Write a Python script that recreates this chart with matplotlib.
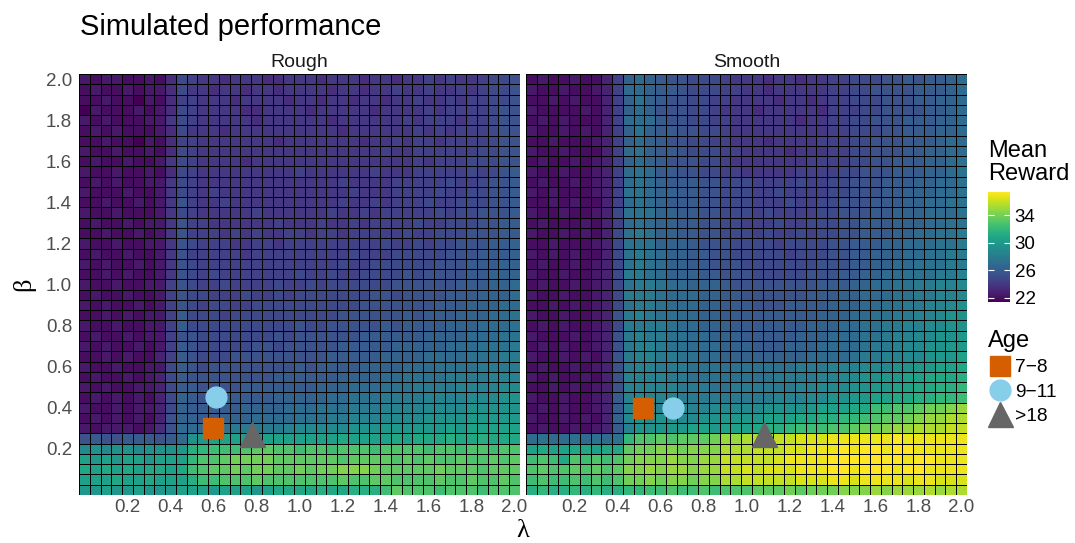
import numpy as np
import matplotlib.pyplot as plt
from matplotlib.colors import Normalize
from matplotlib.lines import Line2D

plt.rcParams['font.family'] = ['Liberation Sans', 'DejaVu Sans']

W, H = 1075, 543

# parameter grid (cell centres)
lambdas = [0.0, 0.05, 0.1, 0.15, 0.2, 0.25, 0.3, 0.35, 0.4, 0.45, 0.5, 0.55, 0.6, 0.65,
           0.7, 0.75, 0.8, 0.85, 0.9, 0.95, 1.0, 1.05, 1.1, 1.15, 1.2, 1.25, 1.3, 1.35,
           1.4, 1.45, 1.5, 1.55, 1.6, 1.65, 1.7, 1.75, 1.8, 1.85, 1.9, 1.95, 2.0]
betas = list(lambdas)

# mean reward per cell, one char per cell: value = 21.4 + 0.5 * LEVELS.index(c)
# rows go from beta = 2.0 (top) down to beta = 0.0, columns lambda 0 -> 2
LEVELS = "abcdefghijklmnopqrstuvwxyzABCDEFG"

rough_rows = [
    "cbccbbcb e h g ffefffeeff fefffeffef fgfgffghhi",
    "bcbbcbcc e h f feffeffeff ffeffeffgf fgffgfghhi",
    "bbcbbacb e g g fffeffffef feffeffeff gffgfgghhi",
    "acbbbcbc e h g ffffeeffff efffffefff fgfgggghii",
    "cbcbbbcc f h g fffffeffff ffeffffffg fgggfgghii",
    "bcbcbbbc e h f ffefffffff fffeffffff gfgfggghii",
    "bbcbbacb e g g fffffffeff fffffeffgf ggfgggghii",
    "cbbcbbcb e h g ffffffffff fffffffgff gggggghhii",
    "bcbbcbbc f h g ffffefffff ffffffffff gfggghhhii",
    "cbbcbbcb e h g fffffffffg ffffffgfff ggggghghij",
    "bcbcbbcc f h g ffffffffff fffgffffgg ggghgghiij",
    "cbbbcbbc f h g fgffffffff ffffgfffgg gghgghhiij",
    "bbcbbcbc f i g ffgfffffff fffgffgfgg ghgghhhiij",
    "cbbcbbbc f h g fffffgffff ffgffgfggg gghghhiiij",
    "bcbbcbcc f i g gffffffgff fgffgfgggg hgghhhiijj",
    "bbcbbcbc f i g ggfgfgffgg fggfgggggh gghhhiiijj",
    "cbbcbbcc f i h gggffggfgg ggggggghgg hghhiiijjk",
    "bcbbcbbc f i g ggggfggggg gggghggghh hhhiiijjjk",
    "cbcbbcbc f i h gggggggggg ggghgghhhh hhiiijjjkk",
    "bbcbcbbc f i h ghgggggggh gghgghhhhi hiiiijjkkk",
    "cbbcbbcc g i h gghgggghgg hghhhhhhii iiiijjjkkl",
    "bcbbcbbc g i h hggghgghgh hhhhhhiihi iiijjjkkkl",
    "cbcbbcbc g i h ghhgghhhhh hhhhhiiiii iijjjkkkll",
    "bbcbcbcc g j h hhghhhhhhh hhhiiiiiij ijjjkkkllm",
    "cbbcbbcc g j h hhhhhhhhhi hhiiiiijij jjjkkklllm",
    "bcbbcbcc g i i hhhhhhhihi iiiiijjjjj jkkkklllmm",
    "cbcbbcbc g j i hhhhhiihii iiijjjjjkk kkklllmmmn",
    "bbcbcbbd g j i hhhiiiiiii iijjjjjkkk kllllmmmnn",
    "cbbcbbcc h j i hiiiiiiiij ijjjjkkkkl llmmmmnnnn",
    "bcbbcbcd h j i iiiiiiijjj jjjkkkkllm mmmnnnnooo",
    "cbcbbccd h j j iiiijjjjjj jkkklllmmm nnnnoooopp",
    "bcbcbcbd h k j iijjjjjkkk kkllmmmnnn noooopppqq",
    "cbbcbccd h k j jjjjkkkkll lmmmnnnooo oppppqqqqq",
    "bcbcbcbd i k k jjkkkllllm mmnnoooppp pqqqqrrrrr",
    "cbcccbce i l l llmnnnnnop ppppqqqrrr rrrsrsssss",
    "ijiijjji j l q rssssrssss ssstssssts tttuttuttt",
    "pqpqqpqq q r u vwwwxyyxxw xxwxxxwxxx xwxxwxxwxx",
    "srsrssrs s s v xxyzzzzyyy yyyxyyyyxy xyxxyxxyxy",
    "tstststt s t w xyyzyzzyyz yzzAAAzyyy yyzyyyxyyy",
    "ssstssts s s u wwxxxyxxxx xxxyxxyyxx xxyxxyxxyx",
    "rrsrrsrr r s s srsssrsttt tuttuuuwyx xxwxxxwxxx",
]

smooth_rows = [
    "bcbbcbbd g k l kjiihhhgff feffeffggh hhiijijjkl",
    "cbbcbbcd g l l kjjihhhggf fefffffggh hiiiijjjkl",
    "bbcbcbbd g k m kjiihhggff ffeffefggh hhiiijjkkl",
    "cbbbbcbd g k l kiiihhgfff efffffeggg hhiiiijjkl",
    "bcbcbbbd g l l ljiihhggff ffffeffggh hiiijjjkkl",
    "cbbcbcbd g k m kjjiihhgff fffffffggh hhiijjjkkl",
    "bbcbbbcd g k l kjiihhggff feffffgggh hiiijjjkll",
    "cbbcbbbd g l m kjjihhhggf fffefffggh hiiijjkkll",
    "bcbbcbcd g k l kjiiihhgff fffffggggh hiijjjkklm",
    "cbbcbbcd g l m ljjiihhggf ffffgggghh iiijjjkklm",
    "bcbbcbcd g l m lkjjjiihhh gggghgghhi iijjjkkllm",
    "cbcbbbcd g m m lkkjjiihhh gghgggghhi iijjkkkllm",
    "bbcbcbbd g l m lkjjjiihhh ggghgghhii ijjjkkllmm",
    "cbbcbbcd h m m mkkjjiihhh ghgggghhii ijjkkklllm",
    "bcbbbcbd g l m lkkjjiihhg gghgghhhii jjjkkkllmm",
    "cbbcbcbd h m n mkkjjiihhh ghgghghhii jjjkkllmmn",
    "bbcbbbcd h m m mkkkjiiihh hhghhhhiij jjkklllmmn",
    "cbcbcbbd h m n mlkkjjiihh hhhghhhiij jkkkllmmnn",
    "bcbbcbcd h m n mlkkjjiiih hhhhhhiiij jkkllmmmnn",
    "cbbcbbcd h n n mlkkkjjiii hhhhhiiijj kkllmmmnno",
    "bcbbcbcd h m n nmllkkkjii iiiiiijjjk kllmmnnoop",
    "cbbcbbcd h n n nmlllkkjji iiiiijjjkk lllmmnnoop",
    "bbcbcbcd h m n nmlllkkjjj iiijjjjkkk llmmnnoopq",
    "cbbcbbcd i n o nmmllkkjjj jjjjjjkkkl lmmnnoopqq",
    "bcbcbbcd h n n nnmllkkkjj jjjjjkkkll mmnnooppqq",
    "cbbbcbcd i n o nnmmllkkkj jjjjkkklll mmnooppqqr",
    "bcbcbbcd i n o onmmlllkkk jjjkkkllll mnnoppqqrr",
    "cbbcbcbd i n o onnmmllkkk kkkkkllllm nnooppqrrs",
    "bcbbcbcd i n o onnnmmmmmm mmmmnnnooo pppqqrrsst",
    "cbcbbcbd i o o oonnmmmmmm mmnnnnoopp qqrrsstttu",
    "bbcbcbcd i o o ooonnnmmnn nnnnoopppq qrrssttuuv",
    "cbbcbbcd j o p ooonnnnnnn nnoooppqqr rssttuuvvw",
    "bcbcbbcd j o p ooppoopppp pqqqqrssst twwxxyzzAB",
    "cbbcbcbd k p q pqqppqqrrr rsssttuuvv wxyyzABBCC",
    "bcbbcbcd j o q qqrrssrsss tuuvwwwxxy zzABBCCCDD",
    "lmllmlml m v x xyxyyyzBBC CCDDEEEFFF FFFGFFFFFF",
    "stssttst t y z zAAzAAACCC DDDEEFFFGF GGFGGFFFFF",
    "wxwtxwxw x z A AABAABBDDD DDEFFFFGGG GGGGFGGFFF",
    "xyxxyxyx y A A BABBABBDDE DEEEFFFGGF GGGFGGFFFF",
    "wxwwxwxw x z z AzAAzAACCD DDDDEEEFFE FFFFEFFEEE",
    "uvuuvuvu u v v wwxwwxwxxx yyyzyzzzAA ABABBBCBCC",
]

panels = ["Rough", "Smooth"]

# fitted parameters per age group
age_groups = ["7\u22128", "9\u221211", ">18"]
rough_lambda = [0.60, 0.61, 0.78]
rough_beta = [0.30, 0.45, 0.27]
smooth_lambda = [0.52, 0.66, 1.08]
smooth_beta = [0.40, 0.40, 0.27]

tick_vals = [0.2, 0.4, 0.6, 0.8, 1.0, 1.2, 1.4, 1.6, 1.8, 2.0]
tick_labels = ["0.2", "0.4", "0.6", "0.8", "1.0", "1.2", "1.4", "1.6", "1.8", "2.0"]


def decode(rows):
    vals = [[21.4 + 0.5 * LEVELS.index(c) for c in r.replace(" ", "")] for r in rows]
    assert all(len(v) == 41 for v in vals), [len(v) for v in vals]
    return np.array(vals[::-1])


grids = [decode(rough_rows), decode(smooth_rows)]
points = [(rough_lambda, rough_beta), (smooth_lambda, smooth_beta)]

shapes = ["s", "o", "^"]
colors = ["#D55E00", "#87CEEB", "#666666"]
msizes = [14.5, 15, 18]

norm = Normalize(vmin=min(g.min() for g in grids), vmax=max(g.max() for g in grids))

fig = plt.figure(figsize=(W / 100, H / 100), dpi=100)
lefts = [79, 526]
axes = []
for i in range(2):
    ax = fig.add_axes([lefts[i] / W, (H - 495) / H, 441 / W, 421 / H])
    axes.append(ax)
    mesh = ax.pcolormesh(lambdas, betas, grids[i], shading="nearest", cmap="viridis",
                         norm=norm, edgecolors="black", linewidth=0.6)
    lx, by = points[i]
    for k in range(3):
        ax.plot(lx[k], by[k], marker=shapes[k], color=colors[k], markersize=msizes[k],
                linestyle="none", zorder=3)
    ax.set_xlim(-0.025, 2.025)
    ax.set_ylim(-0.025, 2.025)
    ax.set_xticks(tick_vals)
    ax.set_xticklabels(tick_labels)
    ax.set_yticks(tick_vals)
    ax.set_yticklabels(tick_labels)
    for s in ax.spines.values():
        s.set_visible(False)
    ax.tick_params(length=0, labelsize=13.5, labelcolor="#4d4d4d")
    ax.tick_params(axis="x", pad=3.2)
    ax.tick_params(axis="y", pad=5.0)
    ax.set_title(panels[i], fontsize=14, color="#1a1a1a", pad=5.2)
axes[1].tick_params(axis="y", labelleft=False)

fig.text(80 / W, 1 - 35 / H, "Simulated performance", fontsize=21, va="baseline", ha="left")
fig.text(523 / W, 1 - 531 / H, "\u03bb", fontsize=19, ha="center", va="center",
         family=["Liberation Serif", "DejaVu Serif"])
fig.text(24 / W, 1 - 284 / H, "\u03b2", fontsize=19, ha="center", va="center", rotation=90,
         family=["Liberation Serif", "DejaVu Serif"])

# colour bar
cax = fig.add_axes([988 / W, (H - 302) / H, 22 / W, 110 / H])
cb = fig.colorbar(mesh, cax=cax, ticks=[22, 26, 30, 34])
cb.outline.set_visible(False)
cax.tick_params(axis="y", left=True, right=True, direction="in", color="white",
                length=4, width=0.8, labelsize=13.5, pad=3.4, labelleft=False)
fig.text(988 / W, 1 - 140 / H, "Mean\nReward", fontsize=17, va="top", ha="left", linespacing=1.05)

# age legend
handles = [Line2D([], [], marker=shapes[k], color=colors[k], markersize=msizes[k], linestyle="none")
           for k in range(3)]
fig.legend(handles, age_groups, title="Age", loc="upper left", bbox_to_anchor=(988 / W, 1 - 330 / H),
           frameon=False, fontsize=13.8, title_fontsize=17, handlelength=1.3, handletextpad=0.1,
           labelspacing=0.36, borderpad=0, borderaxespad=0, alignment="left")

fig.savefig("out.png", dpi=100)
